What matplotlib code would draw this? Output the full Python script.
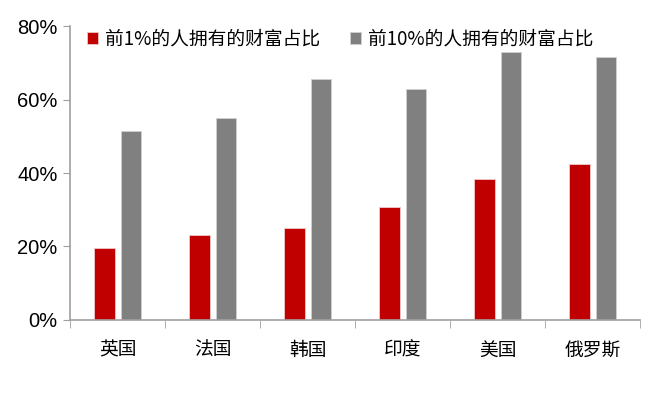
import numpy as np
import matplotlib.pyplot as plt
from matplotlib.ticker import FuncFormatter

plt.rcParams['font.family'] = ['Noto Sans CJK SC', 'DejaVu Sans']

countries = ['英国', '法国', '韩国', '印度', '美国', '俄罗斯']
top1 = [19.7, 23.0, 25.0, 30.7, 38.5, 42.4]
top10 = [51.4, 55.0, 65.6, 62.8, 72.9, 71.5]
labels = ['前1%的人拥有的财富占比', '前10%的人拥有的财富占比']

fig = plt.figure(figsize=(6.5, 3.95), dpi=100)
ax = fig.add_axes([0.108, 0.19, 0.877, 0.744])

x = np.arange(len(countries))
w = 0.22
ax.bar(x - 0.14, top1, w, color='#C00000', edgecolor='#f0c8c8', linewidth=0.6, label=labels[0])
ax.bar(x + 0.14, top10, w, color='#808080', edgecolor='#d0d0d0', linewidth=0.6, label=labels[1])

ax.set_xlim(-0.5, len(countries) - 0.5)
ax.set_ylim(0, 80)
ax.set_yticks([0, 20, 40, 60, 80])
ax.yaxis.set_major_formatter(FuncFormatter(lambda v, p: f'{v:.0f}%'))
for t in ax.get_yticklabels():
    t.set_family('Liberation Sans')
    t.set_fontsize(14.5)

ax.set_xticks(x)
ax.set_xticklabels(countries, fontsize=13.5)
ax.set_xticks(np.arange(-0.5, len(countries)), minor=True)
ax.tick_params(axis='x', which='major', length=0, pad=14)
ax.tick_params(axis='x', which='minor', length=6, color='#a0a0a0', direction='out')
ax.tick_params(axis='y', length=5, color='#a0a0a0', direction='out', pad=4)

for s in ['top', 'right']:
    ax.spines[s].set_visible(False)
for s in ['left', 'bottom']:
    ax.spines[s].set_color('#a0a0a0')
    ax.spines[s].set_linewidth(1.2)

leg = ax.legend(loc='upper left', bbox_to_anchor=(0.0, 1.05), ncol=2, frameon=False,
                fontsize=13.5, handlelength=0.6, handleheight=0.6, handletextpad=0.35,
                columnspacing=1.6)

fig.savefig('out.png', dpi=100)
